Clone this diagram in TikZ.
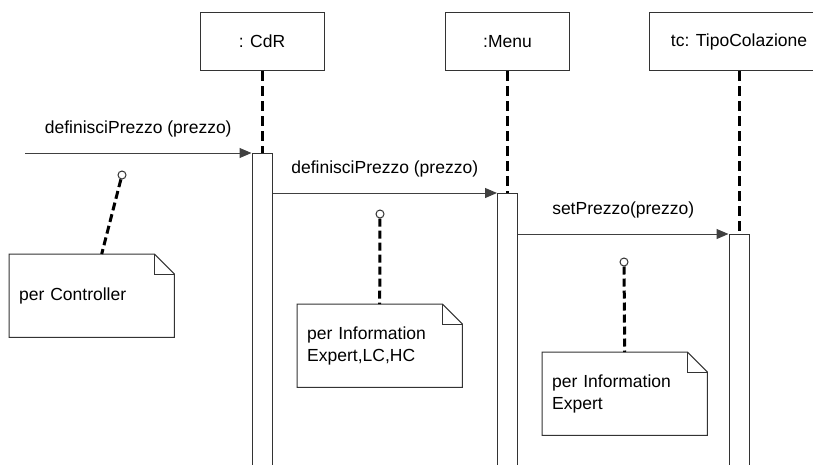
\documentclass[tikz,border=0pt]{standalone}
\usepackage{fontspec}
\setmainfont{Liberation Sans}
\usetikzlibrary{arrows.meta}
\newcommand{\dogear}[1]{%
  \draw[edge] (#1.north west) -- ([xshift=-20pt]#1.north east) -- ([yshift=-20pt]#1.north east) -- (#1.south east) -- (#1.south west) -- cycle;
  \draw[edge] ([xshift=-20pt]#1.north east) |- ([yshift=-20pt]#1.north east);}
\tikzset{
  txt/.style={font=\fontsize{17.5}{22}\selectfont},
  edge/.style={draw=black!80,line width=1pt},
  obj/.style={txt,edge,minimum width=124pt,minimum height=58pt,inner sep=0pt},
  bar/.style={edge,fill=white,minimum width=20pt,inner sep=0pt,anchor=north},
  life/.style={line width=3pt,dash pattern=on 10pt off 5pt},
  msg/.style={draw=black!75,line width=1pt,-{Triangle[length=12pt,width=10pt]}},
  lbl/.style={txt,inner sep=0pt},
  memo/.style={txt,anchor=north west,minimum width=165pt,minimum height=83pt,text width=145pt,inner xsep=10pt,align=left},
  eye/.style={circle,edge,fill=white,minimum size=8pt,inner sep=0pt},
  tie/.style={line width=3pt,dash pattern=on 8pt off 4pt},
}
\begin{document}
\begin{tikzpicture}[x=1pt,y=-1pt]
\useasboundingbox (0,0) rectangle (813,464);
\clip (0,0) rectangle (813,464);
% oggetti
\node[obj] (cdr) at (262,41.5) {: CdR};
\node[obj] (menu) at (507.5,41.5) {:Menu};
\node[obj,minimum width=180pt] (tc) at (739,41.5) {tc: TipoColazione};
% attivazioni
\node[bar,minimum height=320pt] (a1) at (262,153) {};
\node[bar,minimum height=280pt] (a2) at (507.5,193) {};
\node[bar,minimum height=240pt] (a3) at (739,234) {};
\draw[life] (cdr.south) -- (a1.north);
\draw[life] (menu.south) -- (a2.north);
\draw[life] (tc.south) -- (a3.north);
% messaggi
\coordinate (start) at (25,153);
\draw[msg] (start) -- (a1.north west) node[lbl,midway,above=15pt] {definisciPrezzo (prezzo)};
\draw[msg] (a1.east |- a2.north west) -- (a2.north west) node[lbl,midway,above=15pt] {definisciPrezzo (prezzo)};
\draw[msg] (a2.east |- a3.north west) -- (a3.north west) node[lbl,midway,above=15pt] {setPrezzo(prezzo)};
% note
\node[memo] (n1) at (9,254) {per Controller};
\node[memo] (n2) at (297,304) {per Information\\Expert,LC,HC};
\node[memo] (n3) at (542,352) {per Information\\Expert};
\dogear{n1} \dogear{n2} \dogear{n3}
\node[eye] (e1) at (122,175) {};
\node[eye] (e2) at (380,214) {};
\node[eye] (e3) at (624,262) {};
\draw[tie] (e1) -- ([xshift=10pt]n1.north);
\draw[tie] (e2) -- (n2.north);
\draw[tie] (e3) -- (n3.north);
\end{tikzpicture}
\end{document}
